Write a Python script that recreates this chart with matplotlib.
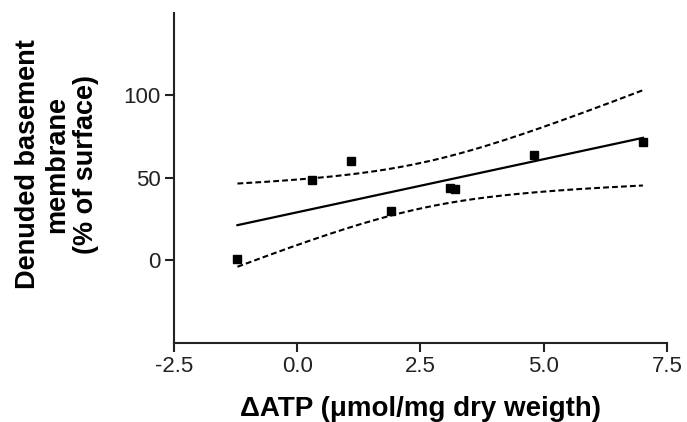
import matplotlib
matplotlib.use("Agg")
import matplotlib.pyplot as plt
import numpy as np

plt.rcParams['font.family'] = ['Liberation Sans', 'DejaVu Sans']

# data
atp = np.array([-1.21, 0.30, 1.09, 1.90, 3.10, 3.20, 4.80, 7.01])
denuded = np.array([1.0, 49.0, 60.0, 30.0, 44.0, 43.0, 64.0, 72.0])

x_ticks = [-2.5, 0.0, 2.5, 5.0, 7.5]
y_ticks = [0, 50, 100]

# linear regression with 95% confidence band (t for df=6)
n = len(atp)
slope, intercept = np.polyfit(atp, denuded, 1)
resid = denuded - (slope * atp + intercept)
s = np.sqrt(np.sum(resid ** 2) / (n - 2))
t_val = 2.447
xs = np.linspace(atp.min(), atp.max(), 200)
fit = slope * xs + intercept
se = s * np.sqrt(1.0 / n + (xs - atp.mean()) ** 2 / np.sum((atp - atp.mean()) ** 2))
upper = fit + t_val * se
lower = fit - t_val * se

fig = plt.figure(figsize=(6.87, 4.22), dpi=100)
ax = fig.add_axes([0.253, 0.188, 0.718, 0.781])

ax.plot(xs, fit, color='black', lw=1.6)
ax.plot(xs, upper, color='black', lw=1.5, linestyle=(0, (2.8, 1.5)))
ax.plot(xs, lower, color='black', lw=1.5, linestyle=(0, (2.8, 1.5)))
ax.plot(atp, denuded, 's', color='black', markersize=5.8)

ax.set_xlim(-2.5, 7.5)
ax.set_ylim(-50, 150)
ax.set_xticks(x_ticks)
ax.set_xticklabels(['%.1f' % v for v in x_ticks])
ax.set_yticks(y_ticks)

for side in ['top', 'right']:
    ax.spines[side].set_visible(False)
for side in ['left', 'bottom']:
    ax.spines[side].set_linewidth(1.5)
    ax.spines[side].set_color('#222222')
ax.tick_params(direction='out', length=6.5, width=1.5, labelsize=16, colors='#222222', pad=3)

ax.set_xlabel('\u0394ATP (\u03bcmol/mg dry weigth)', fontsize=20, fontweight='bold', labelpad=14)
ax.set_ylabel('Denuded basement\nmembrane\n(% of surface)', fontsize=19.5, fontweight='bold',
              linespacing=1.15)
ax.yaxis.set_label_coords(-0.152, 0.542)

fig.savefig('out.png', dpi=100)
